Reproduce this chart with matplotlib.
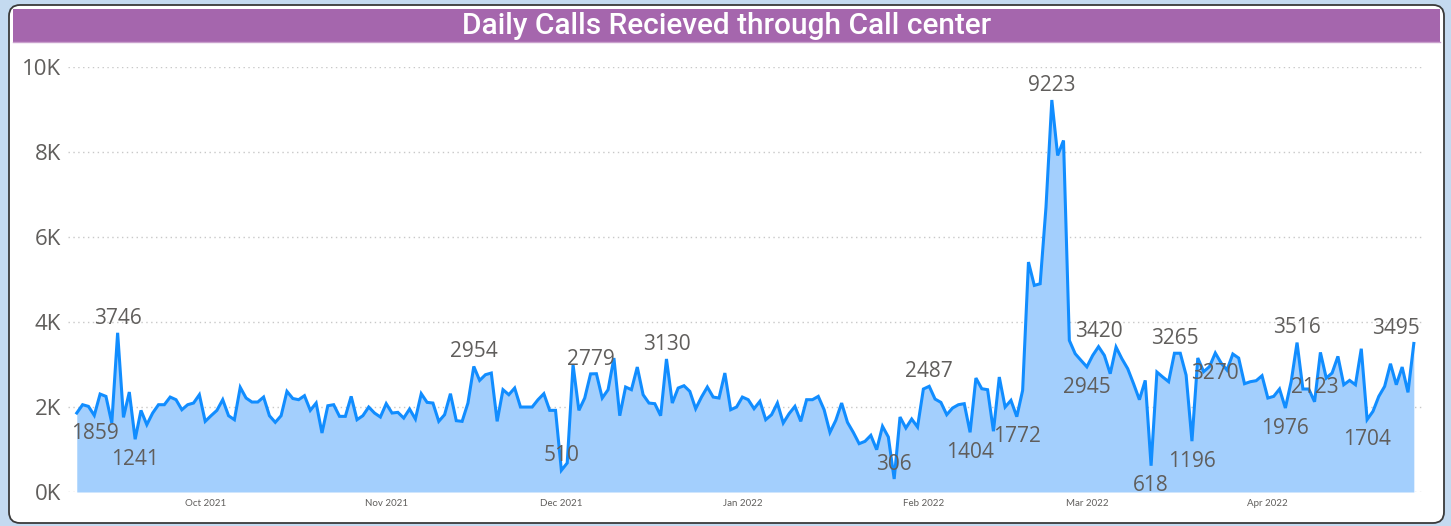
import numpy as np
import pandas as pd
import matplotlib
matplotlib.use("Agg")
import matplotlib.pyplot as plt
import matplotlib.dates as mdates
from matplotlib.patches import FancyBboxPatch, Rectangle
from matplotlib.ticker import FuncFormatter

# daily calls, 9 Sep 2021 .. 26 Apr 2022
start_date = "2021-09-09"
calls = [
    1859, 2054, 2015, 1803, 2305, 2250, 1623, 3746, 1756, 2352,
    1241, 1920, 1584, 1858, 2054, 2054, 2234, 2172, 1936, 2054,
    2093, 2289, 1662, 1795, 1920, 2172, 1795, 1701, 2462, 2211,
    2117, 2117, 2234, 1795, 1639, 1795, 2368, 2200, 2172, 2266,
    1921, 2093, 1388, 2030, 2054, 1780, 1780, 2250, 1701, 1795,
    1999, 1858, 1764, 2078, 1858, 1874, 1740, 1952, 1717, 2313,
    2109, 2093, 1662, 1819, 2313, 1678, 1662, 2093, 2954, 2626,
    2760, 2799, 1662, 2407, 2289, 2446, 1999, 1999, 1999, 2172,
    2313, 1921, 1921, 510, 682, 2995, 1921, 2211, 2779, 2783,
    2211, 2407, 3152, 1795, 2470, 2407, 2940, 2289, 2093, 2078,
    1795, 3130, 2093, 2446, 2501, 2368, 1960, 2234, 2470, 2234,
    2211, 2799, 1936, 1999, 2234, 2172, 1960, 2133, 1701, 1819,
    2093, 1623, 1842, 2015, 1662, 2172, 2172, 2250, 1936, 1403,
    1686, 2093, 1639, 1403, 1137, 1192, 1333, 996, 1545, 1294,
    306, 1764, 1505, 1717, 1529, 2423, 2487, 2187, 2109, 1819,
    1976, 2054, 2078, 1404, 2681, 2430, 2407, 1430, 2705, 1999,
    2156, 1772, 2391, 5410, 4861, 4900, 6703, 9223, 7918, 8271,
    3567, 3254, 3097, 2945, 3214, 3420, 3214, 2783, 3410, 3136,
    2901, 2548, 2172, 2626, 618, 2822, 2705, 2596, 3265, 3265,
    2750, 1196, 3153, 2831, 2949, 3270, 3035, 2870, 3247, 3152,
    2548, 2595, 2619, 2736, 2211, 2250, 2423, 1976, 2603, 3516,
    2423, 2423, 2123, 3285, 2681, 2799, 3191, 2524, 2626, 2524,
    3371, 1704, 1897, 2250, 2485, 3018, 2524, 2940, 2344, 3495,
]

# which points get a value label, and where (a = above, b = below)
label_idx = [0, 7, 10, 68, 83, 88, 101, 140, 146, 153, 161, 167, 173, 175,
             184, 188, 191, 195, 207, 209, 212, 221, 229]
label_pos = ["b", "a", "b", "a", "a", "a", "a", "a", "a", "b", "b", "a", "b", "a",
             "b", "a", "b", "b", "b", "a", "a", "b", "a"]

yticks = [0, 2000, 4000, 6000, 8000, 10000]
title = "Daily Calls Recieved through Call center"

dates = pd.date_range(start_date, periods=len(calls), freq="D")
calls = np.array(calls)

W, H = 1451, 526
fig = plt.figure(figsize=(W / 100, H / 100), dpi=100)
fig.patch.set_facecolor("#c4daf0")

# card + title bar drawn in pixel coords
bg = fig.add_axes([0, 0, 1, 1])
bg.set_xlim(0, W)
bg.set_ylim(H, 0)
bg.axis("off")
bg.add_patch(FancyBboxPatch((9, 5), 1435, 518, boxstyle="round,pad=0,rounding_size=11",
                            fc="white", ec="#3a3a3a", lw=1.3))
bg.add_patch(Rectangle((13, 9), 1427, 33, fc="#a566ad", ec="none"))
bg.plot([13, 1440], [42, 42], color="#c9a0cd", lw=1)
bg.text(727, 26, title, color="white", fontsize=21.5, family="Roboto",
        fontweight="medium", ha="center", va="center")

ax = fig.add_axes([68 / W, 1 - 492 / H, (1422 - 68) / W, (492 - 67) / H])
ax.set_facecolor("none")
ax.fill_between(dates, calls, 0, color="#a3cffd", lw=0, zorder=2)
ax.plot(dates, calls, color="#118dff", lw=2.2, zorder=3, solid_joinstyle="miter")

ax.set_ylim(0, 10000)
ax.set_xlim(dates[0] - pd.Timedelta(days=1.5), dates[0] + pd.Timedelta(days=230.4))
ax.set_yticks(yticks)
ax.yaxis.set_major_formatter(FuncFormatter(lambda v, p: f"{int(v // 1000)}K"))
ax.xaxis.set_major_locator(mdates.MonthLocator())
ax.xaxis.set_major_formatter(mdates.DateFormatter("%b %Y"))
ax.grid(axis="y", color="#c8c8c8", lw=1, linestyle=(0, (1, 2.5)), zorder=1)
ax.set_axisbelow(True)
for s in ax.spines.values():
    s.set_visible(False)
ax.tick_params(axis="both", length=0)
ax.tick_params(axis="y", pad=5, labelsize=16, labelcolor="#605e5c")
ax.tick_params(axis="x", pad=5, labelsize=7, labelcolor="#605e5c")
for t in ax.get_yticklabels():
    t.set_family("Open Sans")
for t in ax.get_xticklabels():
    t.set_family("Lato")

for i, pos in zip(label_idx, label_pos):
    dx = 0
    if i == 0:
        dx = 13
    if i == len(calls) - 1:
        dx = -13
    if pos == "a":
        off, va = (dx, 3), "bottom"
    else:
        off, va = (dx, -7), "top"
    ax.annotate(str(calls[i]), (dates[i], calls[i]), xytext=off,
                textcoords="offset points", ha="center", va=va,
                fontsize=15, color="#605e5c", family="Open Sans",
                zorder=4, annotation_clip=False)

fig.savefig("out.png", dpi=100, facecolor=fig.get_facecolor())
